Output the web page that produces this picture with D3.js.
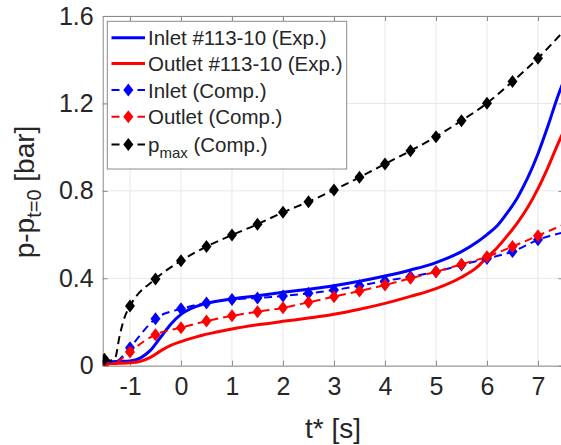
<!DOCTYPE html>
<html><head><meta charset="utf-8">
<script src="https://cdn.jsdelivr.net/npm/d3@7"></script>
<style>body{margin:0;background:#fff}svg{display:block}text{font-family:"Liberation Sans",Arial,sans-serif;fill:#262626}</style>
</head><body><svg id="c" width="561" height="445"></svg>
<script>
// ---- data ----
const tExp = [-1.53,-1.4,-1.2,-1.0,-0.8,-0.6,-0.4,-0.2,0,0.2,0.4,0.6,0.8,1.0,1.5,2.0,2.5,3.0,3.5,4.0,4.5,5.0,5.5,5.8,6.0,6.2,6.4,6.6,6.8,7.0,7.2,7.4,7.5];
const inletExp = [0.015,0.018,0.02,0.022,0.035,0.07,0.13,0.19,0.235,0.262,0.279,0.29,0.298,0.305,0.32,0.336,0.35,0.366,0.386,0.41,0.438,0.472,0.522,0.565,0.60,0.64,0.70,0.77,0.86,0.97,1.10,1.24,1.30];
const outletExp = [0.008,0.01,0.011,0.013,0.02,0.038,0.068,0.093,0.11,0.125,0.138,0.149,0.159,0.168,0.187,0.203,0.218,0.235,0.258,0.285,0.317,0.353,0.405,0.45,0.495,0.54,0.595,0.655,0.725,0.81,0.91,1.02,1.07];
const tComp = [-1.5,-1.4,-1.3,-1.2,-1.1,-1.0,-0.5,0,0.5,1.0,1.5,2.0,2.5,3.0,3.5,4.0,4.5,5.0,5.5,6.0,6.5,7.0,7.5];
const inletComp = [0.008,0.01,0.015,0.03,0.055,0.082,0.215,0.26,0.287,0.303,0.31,0.319,0.331,0.346,0.366,0.388,0.407,0.43,0.461,0.491,0.522,0.576,0.61];
const outletComp = [0.005,0.007,0.012,0.025,0.043,0.063,0.142,0.174,0.204,0.228,0.247,0.265,0.29,0.316,0.342,0.369,0.40,0.43,0.464,0.499,0.545,0.595,0.645];
const pmaxComp = [0.03,0.024,0.03,0.14,0.225,0.273,0.397,0.48,0.545,0.598,0.647,0.702,0.75,0.804,0.862,0.923,0.983,1.048,1.121,1.201,1.30,1.407,1.53];
const xTicks = [-1,0,1,2,3,4,5,6,7];
const yTicks = [0,0.4,0.8,1.2,1.6];
const legendLabels = ["Inlet #113-10 (Exp.)","Outlet #113-10 (Exp.)","Inlet (Comp.)","Outlet (Comp.)","p|max| (Comp.)"];

// ---- layout ----
const L=102.7, T=16, B=365.7, R=102.7+9.035*51;
const svg=d3.select("#c");
const x=d3.scaleLinear().domain([-1.535,7.5]).range([L,R]);
const y=d3.scaleLinear().domain([0,1.6]).range([B,T]);
const axisCol="#8a8a8a", gridCol="#e8e8e8";

// grid
svg.append("g").selectAll("line").data(xTicks).join("line")
  .attr("x1",d=>x(d)).attr("x2",d=>x(d)).attr("y1",T).attr("y2",B).attr("stroke",gridCol);
svg.append("g").selectAll("line").data(yTicks).join("line")
  .attr("x1",L).attr("x2",R).attr("y1",d=>y(d)).attr("y2",d=>y(d)).attr("stroke",gridCol);

// axes
const ax=svg.append("g").attr("transform",`translate(0,${B})`).call(d3.axisBottom(x).tickValues(xTicks).tickSizeInner(-5).tickSizeOuter(0).tickPadding(12).tickFormat(d=>String(d)));
const ay=svg.append("g").attr("transform",`translate(${L},0)`).call(d3.axisLeft(y).tickValues(yTicks).tickSizeInner(-5).tickSizeOuter(0).tickPadding(9).tickFormat(d=>d===0?"0":d.toFixed(1)));
const atop=svg.append("g").attr("transform",`translate(0,${T})`).call(d3.axisTop(x).tickValues(xTicks).tickSizeInner(-5).tickSizeOuter(0).tickFormat(""));
const aright=svg.append("g").attr("transform",`translate(${R},0)`).call(d3.axisRight(y).tickValues(yTicks).tickSizeInner(-5).tickSizeOuter(0).tickFormat(""));
[ax,ay,atop,aright].forEach(g=>{g.selectAll("path,line").attr("stroke",axisCol);g.selectAll("text").attr("fill","#262626").style("font-size","25px").style("font-family","'Liberation Sans',Arial,sans-serif");});
ax.selectAll("text").attr("dy","0.71em");

// series
const clip=svg.append("clipPath").attr("id","cp").append("rect").attr("x",L).attr("y",T).attr("width",R-L).attr("height",B-T);
const gPlot=svg.append("g").attr("clip-path","url(#cp)");
const line=d3.line().x(d=>x(d[0])).y(d=>y(d[1])).curve(d3.curveMonotoneX);
const zip=(t,v)=>t.map((d,i)=>[d,v[i]]);
const diamond="M0,-6.5L5,0L0,6.5L-5,0Z";
const series=[
  {t:tExp,v:inletExp,c:"#0000ff",dash:null,w:3,m:false},
  {t:tExp,v:outletExp,c:"#ff0000",dash:null,w:3,m:false},
  {t:tComp,v:inletComp,c:"#0000ff",dash:"8,5",w:2,m:true},
  {t:tComp,v:outletComp,c:"#ff0000",dash:"8,5",w:2,m:true},
  {t:tComp,v:pmaxComp,c:"#000000",dash:"8,5",w:2,m:true}
];
series.forEach(s=>{
  const pts=zip(s.t,s.v);
  gPlot.append("path").datum(pts).attr("d",line).attr("fill","none").attr("stroke",s.c)
    .attr("stroke-width",s.w).attr("stroke-dasharray",s.dash);
  if(s.m){
    gPlot.append("g").selectAll("path").data(pts.filter(p=>Math.abs(p[0]*2-Math.round(p[0]*2))<1e-6 && p[0]<=7.001)).join("path")
      .attr("d",diamond).attr("transform",p=>`translate(${x(p[0])},${y(p[1])})`).attr("fill",s.c);
  }
});

// axis labels
svg.append("text").attr("x",(L+R)/2).attr("y",438).attr("text-anchor","middle").style("font-size","28px").text("t* [s]");
const yl=svg.append("text").attr("transform","translate(34,192) rotate(-90)").attr("text-anchor","middle").style("font-size","28px");
yl.append("tspan").text("p-p");
yl.append("tspan").attr("dy",7).style("font-size","20px").text("t=0");
yl.append("tspan").attr("dy",-7).text(" [bar]");

// legend
const lg=svg.append("g");
lg.append("rect").attr("x",107.3).attr("y",21.3).attr("width",239.4).attr("height",147.7).attr("fill","#fff").attr("stroke",axisCol);
const rowY=[37.7,63.5,90,116.7,144.5];
series.forEach((s,i)=>{
  const yy=rowY[i];
  lg.append("line").attr("x1",111.5).attr("x2",145).attr("y1",yy).attr("y2",yy).attr("stroke",s.c).attr("stroke-width",s.w).attr("stroke-dasharray",s.dash);
  if(s.m) lg.append("path").attr("d",diamond).attr("transform",`translate(128.3,${yy})`).attr("fill",s.c);
  const tx=lg.append("text").attr("x",148).attr("y",yy+7.5).style("font-size","20.5px");
  const lab=legendLabels[i];
  if(lab.includes("|")){
    const parts=lab.split("|");
    tx.append("tspan").text(parts[0]);
    tx.append("tspan").attr("dy",6).style("font-size","15px").text(parts[1]);
    tx.append("tspan").attr("dy",-6).text(parts[2]);
  } else tx.text(lab);
});
</script></body></html>
